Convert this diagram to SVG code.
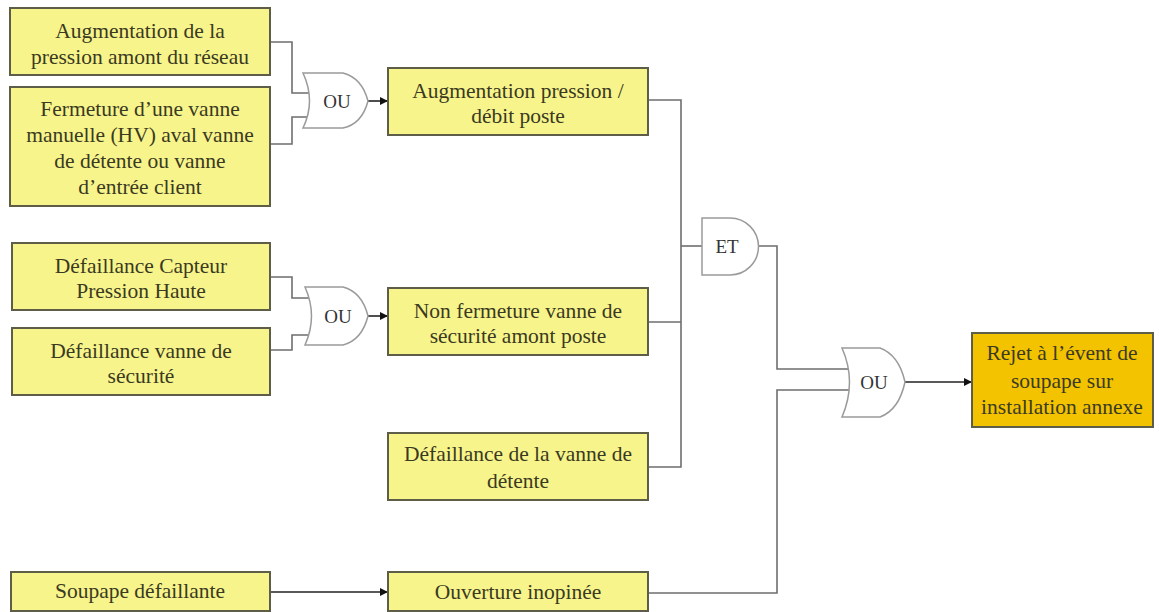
<svg xmlns="http://www.w3.org/2000/svg" width="1159" height="612" viewBox="0 0 1159 612">
<style>
.box{fill:#f8f48c;stroke:#5e5d48;stroke-width:2}
.top{fill:#f4c300;stroke:#5e5d48;stroke-width:2}
.gate{fill:#ffffff;stroke:#9a9a9a;stroke-width:1.5}
.t{font-family:"Liberation Serif","Times New Roman",serif;font-size:21.5px;fill:#3a3a22;text-anchor:middle}
.g{font-family:"Liberation Serif","Times New Roman",serif;font-size:19px;fill:#333;text-anchor:middle}
.c{fill:none;stroke:#6e6e6e;stroke-width:1.6}
.a{fill:none;stroke:#222;stroke-width:1.6;marker-end:url(#arr)}
</style>
<defs>
<marker id="arr" viewBox="0 0 10 10" refX="10" refY="5" markerWidth="8" markerHeight="8" markerUnits="userSpaceOnUse" orient="auto">
<path d="M0,0 L10,5 L0,10 Z" fill="#111"/>
</marker>
</defs>
<rect width="1159" height="612" fill="#ffffff"/>

<g id="connectors">
<path class="c" d="M270,42 H292 V93 H312"/>
<path class="c" d="M270,144 H292 V117 H312"/>
<path class="a" d="M368,101 H388"/>
<path class="c" d="M270,277 H292 V298 H312"/>
<path class="c" d="M270,350 H292 V335 H312"/>
<path class="a" d="M368,316 H388"/>
<path class="c" d="M648,100 H681 V467 H648"/>
<path class="c" d="M648,322 H681"/>
<path class="c" d="M681,246 H702"/>
<path class="c" d="M758,246 H777 V369 H852"/>
<path class="c" d="M648,593 H777 V390 H852"/>
<path class="a" d="M270,592 H388"/>
<path class="a" d="M905,382 H972"/>
</g>

<g id="n1"><rect class="box" x="10" y="8" width="260" height="67"/>
<text class="t" x="140" y="38">Augmentation de la</text>
<text class="t" x="140" y="64">pression amont du réseau</text></g>

<g id="n2"><rect class="box" x="10" y="87" width="260" height="119"/>
<text class="t" x="140" y="116">Fermeture d’une vanne</text>
<text class="t" x="140" y="142">manuelle (HV) aval vanne</text>
<text class="t" x="140" y="168">de détente ou vanne</text>
<text class="t" x="140" y="194">d’entrée client</text></g>

<g id="or1"><path class="gate" d="M303,73 L343,73 Q362,78 368,101 Q362,124 343,128 L303,128 Q316,101 303,73 Z"/>
<text class="g" x="337" y="108">OU</text></g>

<g id="n3"><rect class="box" x="388" y="68" width="260" height="67"/>
<text class="t" x="518" y="98">Augmentation pression /</text>
<text class="t" x="518" y="123">débit poste</text></g>

<g id="n4"><rect class="box" x="12" y="243" width="258" height="67"/>
<text class="t" x="141" y="273">Défaillance Capteur</text>
<text class="t" x="141" y="298">Pression Haute</text></g>

<g id="n5"><rect class="box" x="12" y="328" width="258" height="67"/>
<text class="t" x="141" y="358">Défaillance vanne de</text>
<text class="t" x="141" y="383">sécurité</text></g>

<g id="or2"><path class="gate" d="M305,287 L343,287 Q362,292 368,316 Q362,340 343,345 L305,345 Q318,316 305,287 Z"/>
<text class="g" x="338" y="323">OU</text></g>

<g id="n6"><rect class="box" x="388" y="288" width="260" height="67"/>
<text class="t" x="518" y="318">Non fermeture vanne de</text>
<text class="t" x="518" y="343">sécurité amont poste</text></g>

<g id="n7"><rect class="box" x="388" y="433" width="260" height="67"/>
<text class="t" x="518" y="461">Défaillance de la vanne de</text>
<text class="t" x="518" y="488">détente</text></g>

<g id="et"><path class="gate" d="M702,218 L730,218 A28.5,28.5 0 0 1 730,275 L702,275 Z"/>
<text class="g" x="727" y="253">ET</text></g>

<g id="n8"><rect class="box" x="11" y="572" width="259" height="39"/>
<text class="t" x="140" y="598">Soupape défaillante</text></g>

<g id="n9"><rect class="box" x="388" y="572" width="260" height="39"/>
<text class="t" x="518" y="599">Ouverture inopinée</text></g>

<g id="or3"><path class="gate" d="M842,348 L880,348 Q899,355 905,382 Q899,410 880,417 L842,417 Q857,382 842,348 Z"/>
<text class="g" x="874" y="389">OU</text></g>

<g id="top"><rect class="top" x="972" y="333" width="181" height="94"/>
<text class="t" x="1062" y="360">Rejet à l’évent de</text>
<text class="t" x="1062" y="388">soupape sur</text>
<text class="t" x="1062" y="414">installation annexe</text></g>
</svg>
